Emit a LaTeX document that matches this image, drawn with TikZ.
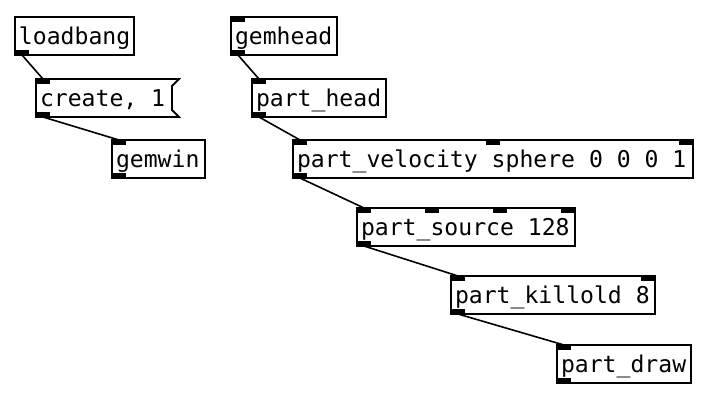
\documentclass[tikz,border=0pt]{standalone}
\usepackage{fontspec}
\newfontfamily\pdfont{DejaVu Sans Mono}
\usetikzlibrary{calc}
\begin{document}
\begin{tikzpicture}[x=1pt,y=-1pt,
  box/.style={anchor=north west, outer sep=0pt, minimum height=38pt,
    inner xsep=4pt, inner ysep=0pt,
    execute at begin node={\hbox to #1\bgroup},
    execute at end node={\hfil\egroup},
    text height=20pt, text depth=3pt, font=\pdfont\fontsize{23.1}{23}\selectfont},
  obj/.style={box=#1, draw, line width=1.8pt},
  msg/.style={box=#1},
  flag/.style={draw, line width=1.8pt, line join=miter},
  iolet/.style={fill=black},
  conn/.style={draw, line width=1.6pt}]
\useasboundingbox[fill=white] (0,0) rectangle (713,402);

% left chain
\node[obj=111pt] (loadbang) at (15,17) {loadbang};
\node[msg=128pt] (create) at (36,79) {create, 1};
\node[obj=85pt] (gemwin) at (112,140) {gemwin};

% right chain
\node[obj=98pt] (gemhead) at (231,17) {gemhead};
\node[obj=126pt] (parthead) at (252,79) {part\_head};
\node[obj=392pt] (partvel) at (293,140) {part\_velocity sphere 0 0 0 1};
\node[obj=210pt] (partsrc) at (357,208) {part\_source 128};
\node[obj=196pt] (partkill) at (451,276) {part\_killold 8};
\node[obj=126pt] (partdraw) at (557,345) {part\_draw};

% message box flag outline
\path[flag] (create.north west) -- ($(create.north east)+(7,0)$) -- ($(create.north east)+(0,7)$)
  -- ($(create.south east)+(0,-7)$) -- ($(create.south east)+(7,0)$) -- (create.south west) -- cycle;

% outlets (bottom left)
\foreach \n in {loadbang,create,gemwin,gemhead,parthead,partvel,partsrc,partkill,partdraw}
  \fill[iolet] (\n.south west) rectangle ++(14,-5);
% left inlets
\foreach \n in {create,gemwin,gemhead,parthead,partvel,partsrc,partkill,partdraw}
  \fill[iolet] (\n.north west) rectangle ++(14,5);
% right inlets
\foreach \n in {partvel,partsrc,partkill}
  \fill[iolet] (\n.north east) rectangle ++(-14,5);
% middle inlets
\coordinate (pvR) at ($(partvel.north east)+(-14,0)$);
\fill[iolet] ($(partvel.north west)!0.5!(pvR)$) rectangle ++(14,5);
\coordinate (psR) at ($(partsrc.north east)+(-14,0)$);
\fill[iolet] ($(partsrc.north west)!1/3!(psR)$) rectangle ++(14,5);
\fill[iolet] ($(partsrc.north west)!2/3!(psR)$) rectangle ++(14,5);

% connections
\path[conn] ($(loadbang.south west)+(7,0)$) -- ($(create.north west)+(7,0)$);
\path[conn] ($(create.south west)+(7,0)$) -- ($(gemwin.north west)+(7,0)$);
\path[conn] ($(gemhead.south west)+(7,0)$) -- ($(parthead.north west)+(7,0)$);
\path[conn] ($(parthead.south west)+(7,0)$) -- ($(partvel.north west)+(7,0)$);
\path[conn] ($(partvel.south west)+(7,0)$) -- ($(partsrc.north west)+(7,0)$);
\path[conn] ($(partsrc.south west)+(7,0)$) -- ($(partkill.north west)+(7,0)$);
\path[conn] ($(partkill.south west)+(7,0)$) -- ($(partdraw.north west)+(7,0)$);
\end{tikzpicture}
\end{document}
